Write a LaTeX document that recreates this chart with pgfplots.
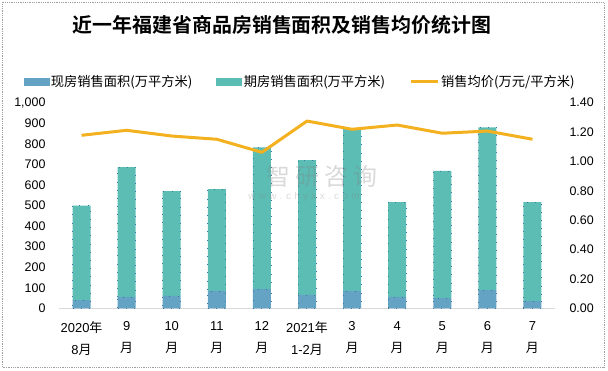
\documentclass[border=0pt]{standalone}
\usepackage{fontspec}
\setmainfont{Liberation Sans}
\newfontfamily\cjk{Noto Sans CJK SC}[BoldFont={Noto Sans CJK SC Bold}]
\usepackage{pgfplots}
\usepackage{pgfplotstable}
\pgfplotsset{compat=1.18}
\definecolor{xianfang}{HTML}{64A3C4}
\definecolor{qifang}{HTML}{5CBDB5}
\definecolor{junjia}{HTML}{F3B11F}
\definecolor{framegray}{HTML}{A0A0A0}
\definecolor{axisgray}{HTML}{D9D9D9}
\definecolor{dotblue}{HTML}{3A78A0}

\pgfplotstableread{
x xf qf price
0 40 460 1.178
1 55 632 1.212
2 60 510 1.173
3 84 496 1.151
4 93 690 1.062
5 65 656 1.275
6 84 791 1.219
7 55 462 1.248
8 50 618 1.192
9 88 792 1.207
10 35 482 1.151
}\data

\begin{document}
\begin{tikzpicture}[x=1bp,y=1bp]
\path[use as bounding box] (0,0) rectangle (608,370);
\draw[framegray, line width=0.8bp, dash pattern=on 1bp off 0.8bp] (2.5,3) rectangle (604,367.5);
\node[font=\cjk\bfseries\fontsize{20}{24}\selectfont] at (282,345) {近一年福建省商品房销售面积及销售均价统计图};

\begin{axis}[
  at={(59bp,61.7bp)}, anchor=south west,
  scale only axis, width=496bp, height=205.6bp,
  xmin=-0.5, xmax=10.5, ymin=0, ymax=1000,
  ytick={0,100,200,300,400,500,600,700,800,900,1000},
  ybar stacked, bar width=18bp,
  axis line style={-},
  axis x line*=bottom, axis y line*=left,
  y axis line style={draw=none},
  x axis line style={axisgray, line width=1bp},
  major tick length=0pt,
  xtick={0,...,10},
  xticklabels={{2020{\cjk 年}\\8{\cjk 月}},{9\\{\cjk 月}},{10\\{\cjk 月}},{11\\{\cjk 月}},{12\\{\cjk 月}},{2021{\cjk 年}\\1-2{\cjk 月}},{3\\{\cjk 月}},{4\\{\cjk 月}},{5\\{\cjk 月}},{6\\{\cjk 月}},{7\\{\cjk 月}}},
  xticklabel style={align=center, font=\fontsize{13}{22}\selectfont, yshift=-10bp},
  yticklabel style={font=\fontsize{12.5}{14}\selectfont, xshift=-10bp},
  /pgf/number format/1000 sep={,},
  /pgf/number format/assume math mode=true,
  clip=false,
]
\addplot[fill=xianfang, draw=dotblue, line width=0.7bp, dash pattern=on 0.7bp off 7.5bp] table[x=x,y=xf]{\data};
\addplot[fill=qifang, draw=dotblue, line width=0.7bp, dash pattern=on 0.7bp off 7.5bp] table[x=x,y=qf]{\data};
\end{axis}

\begin{axis}[
  at={(59bp,61.7bp)}, anchor=south west,
  scale only axis, width=496bp, height=205.6bp,
  xmin=-0.5, xmax=10.5, ymin=0, ymax=1.4,
  ytick={0,0.2,0.4,0.6,0.8,1.0,1.2,1.4},
  axis line style={-},
  axis x line=none, axis y line*=right,
  y axis line style={draw=none},
  major tick length=0pt,
  yticklabel style={font=\fontsize{12.5}{14}\selectfont, xshift=11bp,
    /pgf/number format/.cd, fixed, fixed zerofill, precision=2},
  /pgf/number format/assume math mode=true,
  clip=false,
  legend columns=3,
  legend style={at={(axis description cs:0.486,1.101)}, anchor=center, draw=none, fill=none,
    font=\cjk\fontsize{13.3}{15}\selectfont,
    /tikz/every even column/.append style={column sep=22bp}},
]
\addlegendimage{legend image code/.code={\fill[xianfang] (0bp,-3.5bp) rectangle (25bp,3.5bp);}}
\addlegendentry{现房销售面积(万平方米)}
\addlegendimage{legend image code/.code={\fill[qifang] (0bp,-3.5bp) rectangle (25bp,3.5bp);}}
\addlegendentry{期房销售面积(万平方米)}
\addplot[junjia, line width=3bp, line join=round,
  legend image code/.code={\draw[junjia, line width=3bp] (0bp,0bp) -- (27bp,0bp);}] table[x=x,y=price]{\data};
\addlegendentry{销售均价(万元/平方米)}
\end{axis}

\node[text=gray, opacity=0.3, font=\cjk\fontsize{24}{24}\selectfont] at (322,194) {智 研 咨 询};
\node[text=gray, opacity=0.3, font=\fontsize{10}{10}\selectfont] at (304,173) {w\,\,w\,\,w\,\,.\,\,c\,\,h\,\,y\,\,x\,\,x\,\,.\,\,c\,\,o\,\,m};
\end{tikzpicture}
\end{document}
